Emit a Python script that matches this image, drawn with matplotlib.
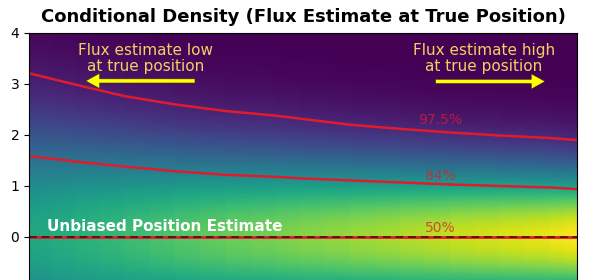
import numpy as np
import matplotlib
matplotlib.use("Agg")
import matplotlib.pyplot as plt

# -----------------------
# Data
# -----------------------
# x is unlabeled in the reference, so use 0..1 across the panel
x_pos = [0.0, 0.084, 0.175, 0.266, 0.358, 0.449, 0.495, 0.586, 0.677, 0.768, 0.859, 0.951, 1.0]
q50 = [0.0] * 13
q84 = [1.59, 1.48, 1.38, 1.29, 1.22, 1.18, 1.15, 1.11, 1.07, 1.03, 1.00, 0.97, 0.94]
q975 = [3.21, 2.99, 2.76, 2.60, 2.47, 2.38, 2.32, 2.20, 2.12, 2.05, 1.99, 1.94, 1.90]

pct_labels = ["97.5%", "84%", "50%"]
pct_label_y = [2.29, 1.20, 0.18]

TITLE = "Conditional Density (Flux Estimate at True Position)"
LOW_TXT = "Flux estimate low\nat true position"
HIGH_TXT = "Flux estimate high\nat true position"
UNBIASED_TXT = "Unbiased Position Estimate"

# -----------------------
# Density field: gaussian in y, width from the 84% curve
# -----------------------
x = np.array(x_pos)
sig = np.array(q84)
yy = np.linspace(-2, 4, 400)
dens = np.exp(-(yy[:, None] - np.array(q50)[None, :])**2 / (2 * sig[None, :]**2)) / sig[None, :]

# -----------------------
# Plot
# -----------------------
fig = plt.figure(figsize=(6, 2.8), dpi=100)
ax = fig.add_axes([0.0483, -0.2107, 0.9133, 1.0929])

ax.pcolormesh(x, yy, dens, shading="gouraud", cmap="viridis",
              vmin=0, vmax=dens.max(), rasterized=True)

red = "#e01b2e"
ax.plot(x, q975, color=red, lw=1.8)
ax.plot(x, q84, color=red, lw=1.8)
ax.plot(x, q50, color=red, lw=2.0)
ax.plot(x, q50, color="black", lw=1.4, ls=(0, (4, 2.5)), alpha=0.55)

for lab, yl in zip(pct_labels, pct_label_y):
    ax.text(0.75, yl, lab, color=red, alpha=0.75, fontsize=10,
            ha="center", va="center")

ax.text(0.2135, 3.5, LOW_TXT, color="#f0d264", fontsize=11,
        ha="center", va="center", linespacing=1.05)
ax.text(0.830, 3.5, HIGH_TXT, color="#f0d264", fontsize=11,
        ha="center", va="center", linespacing=1.05)

arrow_kw = dict(arrowstyle="simple,head_length=1.0,head_width=1.1,tail_width=0.3",
                color="#ffff00", ec="#3a2a10", lw=0.4)
ax.annotate("", xy=(0.0985, 3.06), xytext=(0.308, 3.06), arrowprops=arrow_kw)
ax.annotate("", xy=(0.947, 3.05), xytext=(0.737, 3.05), arrowprops=arrow_kw)

ax.text(0.248, 0.2, UNBIASED_TXT, color="white", fontsize=11,
        fontweight="bold", ha="center", va="center")

ax.set_xlim(0, 1)
ax.set_ylim(-2, 4)
ax.set_xticks([])
ax.set_yticks([0, 1, 2, 3, 4])
ax.tick_params(axis="y", labelsize=10, length=3.5)
ax.set_title(TITLE, fontsize=13, fontweight="bold", pad=8)

fig.savefig("out.png", dpi=100)
